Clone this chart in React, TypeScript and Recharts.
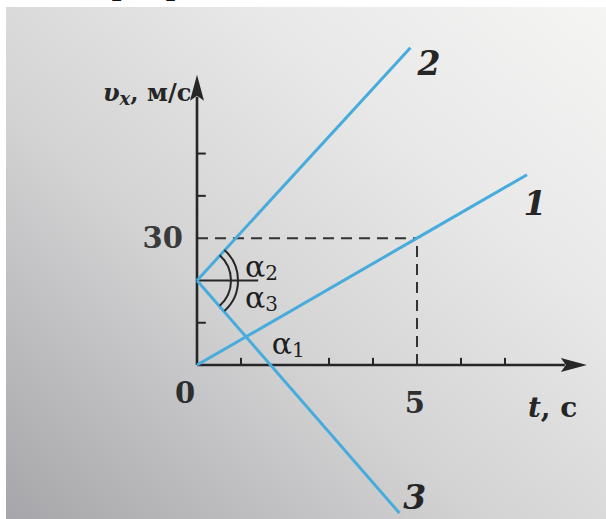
import React from "react";
import {
  ComposedChart,
  Line,
  XAxis,
  YAxis,
  ReferenceLine,
  ReferenceDot,
} from "recharts";

// velocity graphs v(t) for three bodies
const line1 = [
  { t: 0, v: 0 },
  { t: 5, v: 30 },
  { t: 7.5, v: 45 },
];
const line2 = [
  { t: 0, v: 20 },
  { t: 4.85, v: 75 },
];
const line3 = [
  { t: 0, v: 20 },
  { t: 4.6, v: -35 },
];

const tTicks = [1, 3, 4, 6, 7];
const vTicks = [10, 40, 50];
const guideT = 5;
const guideV = 30;
const startV = 20;

const tDomain: [number, number] = [-4.477, 9.295];
const vDomain: [number, number] = [-36.4, 86.3];

const W = 606;
const H = 519;
const BLUE = "#47acdb";
const INK = "#262626";
const SERIF = "'DejaVu Serif', 'Liberation Serif', serif";

const ArrowLine = (props: any) => {
  const { x1, y1, x2, y2 } = props;
  const ang = Math.atan2(y2 - y1, x2 - x1);
  const len = 26;
  const half = 7;
  const bx = x2 - len * Math.cos(ang);
  const by = y2 - len * Math.sin(ang);
  const px = -Math.sin(ang) * half;
  const py = Math.cos(ang) * half;
  return (
    <g>
      <line x1={x1} y1={y1} x2={bx + 4 * Math.cos(ang)} y2={by + 4 * Math.sin(ang)} stroke={INK} strokeWidth={2.6} />
      <polygon
        points={`${x2},${y2} ${bx + px},${by + py} ${bx + 5 * Math.cos(ang)},${by + 5 * Math.sin(ang)} ${bx - px},${by - py}`}
        fill={INK}
      />
    </g>
  );
};

const Arcs = (props: any) => {
  const { cx, cy } = props;
  const arc = (r: number, a: number) => {
    const rad = (a * Math.PI) / 180;
    const x = cx + r * Math.cos(rad);
    const yT = cy - r * Math.sin(rad);
    const yB = cy + r * Math.sin(rad);
    return `M ${x} ${yT} A ${r} ${r} 0 0 1 ${x} ${yB}`;
  };
  return (
    <g fill="none" stroke={INK} strokeWidth={2}>
      <path d={arc(34, 48)} />
      <path d={arc(41, 48)} />
    </g>
  );
};

const textShape =
  (content: React.ReactNode, opts: { size: number; anchor?: string; italic?: boolean; weight?: number; fill?: string }) =>
  (props: any) =>
    (
      <text
        x={props.cx}
        y={props.cy}
        textAnchor={(opts.anchor as any) || "middle"}
        dominantBaseline="central"
        fontFamily={SERIF}
        fontSize={opts.size}
        fontStyle={opts.italic ? "italic" : "normal"}
        fontWeight={opts.weight || 400}
        fill={opts.fill || INK}
      >
        {content}
      </text>
    );

const alpha = (n: string) => (
  <>
    <tspan>α</tspan>
    <tspan fontSize={20} dy={7}>{n}</tspan>
  </>
);

export default function App() {
  return (
    <div
      style={{
        position: "absolute",
        left: 0,
        top: 0,
        width: W,
        height: H,
        overflow: "hidden",
        background: "#fff",
      }}
    >
      <div
        style={{
          position: "absolute",
          left: 6,
          top: 7,
          right: 0,
          bottom: 0,
          background:
            "linear-gradient(to bottom left, #f5f5f4 0%, #e8e8e8 30%, #d3d3d4 60%, #a6a6aa 100%)",
        }}
      />
      <div
        style={{
          position: "absolute",
          left: 30,
          top: -38,
          fontFamily: SERIF,
          fontSize: 34,
          lineHeight: "40px",
          color: "#111",
          letterSpacing: 2,
        }}
      >
        , д графи
      </div>
      <ComposedChart
        width={W}
        height={H}
        margin={{ top: 0, right: 0, bottom: 0, left: 0 }}
        style={{ position: "absolute", left: 0, top: 0 }}
      >
        <XAxis type="number" dataKey="t" domain={tDomain} hide allowDataOverflow />
        <YAxis type="number" dataKey="v" domain={vDomain} hide allowDataOverflow />

        {/* dashed guides to (5 s, 30 m/s) */}
        <ReferenceLine
          segment={[{ x: 0, y: guideV }, { x: guideT, y: guideV }]}
          stroke="#333"
          strokeWidth={2}
          strokeDasharray="11 7"
          ifOverflow="visible"
        />
        <ReferenceLine
          segment={[{ x: guideT, y: 0 }, { x: guideT, y: guideV }]}
          stroke="#333"
          strokeWidth={2}
          strokeDasharray="11 7"
          ifOverflow="visible"
        />

        {/* axes with arrows */}
        <ReferenceLine
          segment={[{ x: 0, y: 0 }, { x: 8.86, y: 0 }]}
          shape={ArrowLine}
          ifOverflow="visible"
        />
        <ReferenceLine
          segment={[{ x: 0, y: 0 }, { x: 0, y: 68.6 }]}
          shape={ArrowLine}
          ifOverflow="visible"
        />
        {tTicks.map((t) => (
          <ReferenceLine
            key={`tt${t}`}
            segment={[{ x: t, y: 0 }, { x: t, y: 1.7 }]}
            stroke={INK}
            strokeWidth={2}
            ifOverflow="visible"
          />
        ))}
        {vTicks.map((v) => (
          <ReferenceLine
            key={`vt${v}`}
            segment={[{ x: 0, y: v }, { x: 0.2, y: v }]}
            stroke={INK}
            strokeWidth={2}
            ifOverflow="visible"
          />
        ))}
        <ReferenceLine
          segment={[{ x: 0, y: startV }, { x: 1.39, y: startV }]}
          stroke={INK}
          strokeWidth={2}
          ifOverflow="visible"
        />
        <ReferenceDot x={0} y={startV} r={1} shape={Arcs} ifOverflow="visible" />

        <Line data={line1} dataKey="v" stroke={BLUE} strokeWidth={3} dot={false} activeDot={false} isAnimationActive={false} />
        <Line data={line2} dataKey="v" stroke={BLUE} strokeWidth={3} dot={false} activeDot={false} isAnimationActive={false} />
        <Line data={line3} dataKey="v" stroke={BLUE} strokeWidth={3} dot={false} activeDot={false} isAnimationActive={false} />

        {/* labels */}
        <ReferenceDot x={5.27} y={71.2} r={1} ifOverflow="visible" shape={textShape("2", { size: 33, italic: true, weight: 700 })} />
        <ReferenceDot x={7.68} y={38.1} r={1} ifOverflow="visible" shape={textShape("1", { size: 33, italic: true, weight: 700 })} />
        <ReferenceDot x={4.95} y={-31.4} r={1} ifOverflow="visible" shape={textShape("3", { size: 33, italic: true, weight: 700 })} />
        <ReferenceDot x={-0.32} y={30} r={1} ifOverflow="visible" shape={textShape("30", { size: 29, anchor: "end", weight: 700, fill: "#3a3a3a" })} />
        <ReferenceDot x={-0.27} y={-6.6} r={1} ifOverflow="visible" shape={textShape("0", { size: 29, weight: 700, fill: "#2e2e2e" })} />
        <ReferenceDot x={4.95} y={-9} r={1} ifOverflow="visible" shape={textShape("5", { size: 29, weight: 700, fill: "#2e2e2e" })} />
        <ReferenceDot
          x={7.52}
          y={-10}
          r={1}
          ifOverflow="visible"
          shape={textShape(
            <>
              <tspan fontStyle="italic">t</tspan>
              <tspan>, с</tspan>
            </>,
            { size: 28, anchor: "start", weight: 700 }
          )}
        />
        <ReferenceDot
          x={-0.13}
          y={64.5}
          r={1}
          ifOverflow="visible"
          shape={textShape(
            <>
              <tspan fontStyle="italic">υ</tspan>
              <tspan fontStyle="italic" fontSize={18} dy={6}>x</tspan>
              <tspan dy={-6}>, м/с</tspan>
            </>,
            { size: 24, anchor: "end", weight: 700 }
          )}
        />
        <ReferenceDot x={1.09} y={23.4} r={1} ifOverflow="visible" shape={textShape(alpha("2"), { size: 30, anchor: "start", fill: "#1e1e1e" })} />
        <ReferenceDot x={1.09} y={16.0} r={1} ifOverflow="visible" shape={textShape(alpha("3"), { size: 30, anchor: "start", fill: "#1e1e1e" })} />
        <ReferenceDot x={1.7} y={5.2} r={1} ifOverflow="visible" shape={textShape(alpha("1"), { size: 30, anchor: "start", fill: "#1e1e1e" })} />
      </ComposedChart>
    </div>
  );
}
